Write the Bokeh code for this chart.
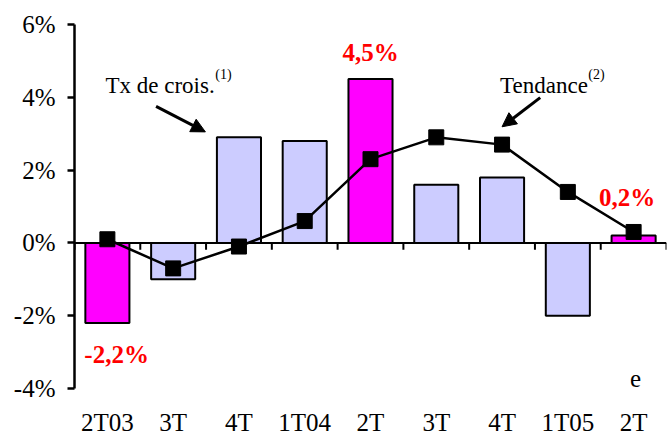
from bokeh.plotting import figure
from bokeh.models import (Range1d, FixedTicker, PrintfTickFormatter, Span,
                          Arrow, NormalHead, Label, ColumnDataSource)
from bokeh.embed import file_html
from bokeh.resources import INLINE

# ---- data ----
categories = ["2T03", "3T", "4T", "1T04", "2T", "3T", "4T", "1T05", "2T"]
growth = [-2.2, -1.0, 2.9, 2.8, 4.5, 1.6, 1.8, -2.0, 0.2]
trend = [0.1, -0.7, -0.1, 0.6, 2.3, 2.9, 2.7, 1.4, 0.3]
highlight = [True, False, False, False, True, False, False, False, True]
y_ticks = [-4, -2, 0, 2, 4, 6]

FONT = "'Liberation Serif'"
MAGENTA = "#FF00FF"
LAVENDER = "#CCCCFF"
RED = "#FF0000"

n = len(categories)
xc = [i + 0.5 for i in range(n)]
bounds = list(range(n + 1))
colors = [MAGENTA if h else LAVENDER for h in highlight]

src = ColumnDataSource(dict(x=xc, growth=growth, trend=trend, color=colors))

p = figure(width=667, height=438, x_range=Range1d(0, n), y_range=Range1d(-4, 6),
           output_backend="svg", toolbar_location=None,
           min_border_left=74, min_border_right=1, min_border_top=24, min_border_bottom=49)
p.grid.visible = False
p.outline_line_color = None

# bars
p.vbar(x="x", top="growth", bottom=0, width=0.67, fill_color="color",
       line_color="black", line_width=2, source=src)
# zero line and boundary ticks
p.add_layout(Span(location=0, dimension="width", line_color="black", line_width=2))
p.segment(x0=bounds, y0=[0] * len(bounds), x1=bounds, y1=[-0.19] * len(bounds),
          line_color="black", line_width=2)
# trend line
p.line(x="x", y="trend", line_color="black", line_width=2.5, source=src)
p.scatter(x="x", y="trend", marker="square", size=15, fill_color="black",
          line_color="black", source=src)

# y axis
ya = p.yaxis[0]
ya.ticker = FixedTicker(ticks=y_ticks)
ya.formatter = PrintfTickFormatter(format="%d%%")
ya.axis_line_width = 2.5
ya.major_tick_line_width = 2.5
ya.major_tick_in = 0
ya.major_tick_out = 7
ya.minor_tick_line_color = None
ya.major_label_standoff = 12
ya.major_label_text_font = FONT
ya.major_label_text_font_size = "25px"
ya.major_label_text_color = "black"

# category labels at bottom
xa = p.xaxis[0]
xa.ticker = FixedTicker(ticks=xc)
xa.major_label_overrides = {x: c for x, c in zip(xc, categories)}
xa.axis_line_color = None
xa.major_tick_line_color = None
xa.minor_tick_line_color = None
xa.major_label_standoff = 14
xa.major_label_text_font = FONT
xa.major_label_text_font_size = "25px"
xa.major_label_text_color = "black"

# value labels
def fmt(v):
    return f"{v:.1f}".replace(".", ",") + "%"

value_labels = [(0, 0.64, -3.07), (4, 4.5, 5.23), (8, 8.4, 1.26)]
for idx, lx, ly in value_labels:
    p.add_layout(Label(x=lx, y=ly, text=fmt(growth[idx]), text_align="center",
                       text_baseline="middle", text_font=FONT, text_font_size="25px",
                       text_font_style="bold", text_color=RED))

# annotations
p.add_layout(Label(x=0.47, y=4.33, text="Tx de crois.", text_align="left",
                   text_baseline="alphabetic", text_font=FONT, text_font_size="23px",
                   text_color="black"))
p.add_layout(Label(x=2.14, y=4.62, text="(1)", text_align="left",
                   text_baseline="alphabetic", text_font=FONT, text_font_size="14px",
                   text_color="black"))
p.add_layout(Label(x=6.47, y=4.33, text="Tendance", text_align="left",
                   text_baseline="alphabetic", text_font=FONT, text_font_size="23px",
                   text_color="black"))
p.add_layout(Label(x=7.81, y=4.62, text="(2)", text_align="left",
                   text_baseline="alphabetic", text_font=FONT, text_font_size="14px",
                   text_color="black"))
p.add_layout(Label(x=8.53, y=-3.72, text="e", text_align="center",
                   text_baseline="middle", text_font=FONT, text_font_size="25px",
                   text_color="black"))

p.add_layout(Arrow(end=NormalHead(size=14, fill_color="black", line_color="black"),
                   x_start=1.24, y_start=3.75, x_end=1.99, y_end=3.05,
                   line_width=3, line_color="black"))
p.add_layout(Arrow(end=NormalHead(size=14, fill_color="black", line_color="black"),
                   x_start=7.08, y_start=3.99, x_end=6.50, y_end=3.19,
                   line_width=3, line_color="black"))

open("out.html", "w").write(file_html(p, INLINE))
